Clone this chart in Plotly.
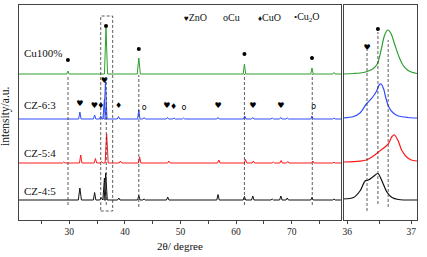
import plotly.graph_objects as go

W, H = 427, 257
# ---------------- data ----------------
series_names = ["Cu100%", "CZ-6:3", "CZ-5:4", "CZ-4:5"]
series_colors = ["#2e9e2e", "#2f4bff", "#ff1a1a", "#111111"]
series_offsets = [146, 101, 57, 20]

# main-panel peaks: (2theta, height)
peaks_cu100 = [(29.75, 3), (36.6, 46), (42.5, 16), (61.5, 10), (73.65, 6), (77.6, 1.5)]
peaks_cz63 = [(31.9, 7), (34.55, 4), (35.65, 3), (36.32, 20), (36.5, 37), (38.85, 2.5), (42.5, 9),
              (43.45, 1.5), (47.65, 1.5), (48.85, 1), (50.55, 1), (56.75, 1.5), (61.55, 3),
              (63.0, 1.5), (66.5, 1), (68.05, 1.5), (69.2, 1), (73.65, 3), (77.6, 1)]
peaks_cz54 = [(29.0, 1), (32.05, 8), (34.7, 4.5), (35.8, 1.5), (36.72, 29), (39.2, 2), (42.65, 6),
              (47.9, 2), (56.9, 3), (61.7, 3.5), (63.1, 2), (66.7, 1), (68.1, 2.5), (69.3, 1.5),
              (73.8, 2), (77.6, 0.8)]
peaks_cz45 = [(31.9, 12), (34.55, 7.5), (35.7, 2.5), (36.32, 22), (36.55, 27), (38.9, 2), (42.5, 4.5),
              (43.45, 1), (47.7, 3), (56.75, 5.5), (61.5, 3.5), (63.0, 4), (66.5, 1), (68.05, 4),
              (69.2, 2), (73.65, 2.5), (77.6, 1)]
main_peaks = [peaks_cu100, peaks_cz63, peaks_cz54, peaks_cz45]

# zoomed panel profiles (2theta, intensity above baseline)
zoom_cu100 = [(35.94, 0), (36.1, 0.5), (36.2, 1), (36.3, 2.3), (36.4, 5), (36.47, 10), (36.53, 24),
              (36.58, 38), (36.63, 44), (36.68, 41), (36.74, 30), (36.81, 17), (36.87, 9),
              (36.94, 4), (37.0, 2), (37.09, 0.5)]
zoom_cz63 = [(35.94, 0), (36.1, 1.5), (36.2, 5), (36.3, 14), (36.4, 21), (36.46, 27), (36.5, 33),
             (36.53, 34), (36.57, 29), (36.6, 21), (36.65, 11), (36.72, 5), (36.8, 2),
             (36.95, 0.5), (37.09, 0)]
zoom_cz54 = [(35.94, 0), (36.1, 0.3), (36.2, 0.8), (36.3, 2), (36.4, 5.5), (36.5, 10.5), (36.6, 15.5),
             (36.65, 19), (36.7, 25.5), (36.74, 27), (36.8, 20.5), (36.85, 12), (36.92, 5.5),
             (37.0, 2), (37.09, 1)]
zoom_cz45 = [(35.94, 1), (36.1, 2.5), (36.2, 9), (36.28, 19), (36.33, 20), (36.4, 23), (36.48, 26.5),
             (36.55, 18), (36.62, 8), (36.7, 2.5), (36.8, 0.5), (37.09, 0)]
zoom_profiles = [zoom_cu100, zoom_cz63, zoom_cz54, zoom_cz45]

# phase markers in the main panel
dots_main = [(29.75, 160), (36.6, 194), (42.5, 171), (61.5, 166), (73.65, 162)]
symbols_main = [
    (31.9, 116, "♥"), (34.5, 114, "♥"), (35.65, 114, "♦"), (36.3, 139, "♥"), (38.85, 114, "♦"),
    (43.45, 112, "o"), (47.55, 114, "♥"), (48.75, 113, "♦"), (50.6, 112, "o"), (56.75, 114, "♥"),
    (63.0, 114, "♥"), (68.05, 114, "♥"), (73.95, 113, "o"),
]
# phase markers in the zoomed panel
symbols_zoom = [(36.31, 172, "♥")]
dots_zoom = [(36.48, 191)]

# dashed reference lines: (2theta, y_low, y_high)
ref_lines_main = [(29.77, 15, 145), (36.65, 15, 145), (42.5, 13, 145), (61.5, 15, 146), (73.7, 15, 146)]
ref_box_main = (35.65, 37.8, 9, 204)
ref_lines_zoom = [(36.31, 9, 170), (36.48, 16, 188), (36.64, 13, 180)]

legend_symbols = ["♥", "o", "♦", "•"]
legend_symbol_sizes = [8, 10, 8, 9]
legend_labels = ["ZnO", "Cu", "CuO", "Cu<sub>2</sub>O"]
legend_x = [195, 231, 269, 307]

# ---------------- figure ----------------
fig = go.Figure()
SERIF = "Liberation Serif"

for name, col, off, pk in zip(series_names, series_colors, series_offsets, main_peaks):
    xs, ys = [20.95], [off]
    for p, h in sorted(pk):
        w = 0.28 if h > 10 else 0.22
        xs += [p - w, p, p + w]
        ys += [off, off + h, off]
    xs.append(78.87)
    ys.append(off)
    fig.add_trace(go.Scatter(x=xs, y=ys, mode="lines", line=dict(color=col, width=1),
                             xaxis="x", yaxis="y", showlegend=False, hoverinfo="skip"))

zoom_offsets = [146, 102, 58, 20]
for col, off, prof in zip(series_colors, zoom_offsets, zoom_profiles):
    fig.add_trace(go.Scatter(x=[p[0] for p in prof], y=[off + p[1] for p in prof], mode="lines",
                             line=dict(color=col, width=1.2, shape="spline", smoothing=0.8),
                             xaxis="x2", yaxis="y2", showlegend=False, hoverinfo="skip"))

def sym_trace(marks, xa, ya):
    return go.Scatter(x=[m[0] for m in marks], y=[m[1] for m in marks], text=[m[2] for m in marks],
                      mode="text", textfont=dict(family="DejaVu Sans", size=8, color="#000"),
                      xaxis=xa, yaxis=ya, showlegend=False, hoverinfo="skip")

def dot_trace(marks, xa, ya):
    return go.Scatter(x=[m[0] for m in marks], y=[m[1] for m in marks], mode="markers",
                      marker=dict(symbol="circle", size=4, color="#000"),
                      xaxis=xa, yaxis=ya, showlegend=False, hoverinfo="skip")

fig.add_trace(sym_trace(symbols_main, "x", "y"))
fig.add_trace(sym_trace(symbols_zoom, "x2", "y2"))
fig.add_trace(dot_trace(dots_main, "x", "y"))
fig.add_trace(dot_trace(dots_zoom, "x2", "y2"))

shapes = []
dash = dict(color="#333333", width=0.8, dash="3px,2px")
for xv, y0, y1 in ref_lines_main:
    shapes.append(dict(type="line", xref="x", yref="y", x0=xv, x1=xv, y0=y0, y1=y1, line=dash))
bx0, bx1, by0, by1 = ref_box_main
shapes.append(dict(type="rect", xref="x", yref="y", x0=bx0, x1=bx1, y0=by0, y1=by1, line=dash))
for xv, y0, y1 in ref_lines_zoom:
    shapes.append(dict(type="line", xref="x2", yref="y2", x0=xv, x1=xv, y0=y0, y1=y1, line=dash))

annotations = []
label_y = [167, 115, 67, 29]
for name, ly in zip(series_names, label_y):
    annotations.append(dict(x=22 / W, y=ly, xref="paper", yref="y",
                            text=name, showarrow=False, xanchor="left", yanchor="middle",
                            font=dict(family=SERIF, size=11, color="#111")))
for s, ss, lab, xp in zip(legend_symbols, legend_symbol_sizes, legend_labels, legend_x):
    txt = "<span style='font-size:%dpx'>%s</span>%s" % (ss, s, lab)
    annotations.append(dict(x=xp / W, y=1 - 18 / H, xref="paper", yref="paper", text=txt,
                            showarrow=False, xanchor="center", yanchor="middle",
                            font=dict(family=SERIF, size=10, color="#111")))
annotations.append(dict(x=6 / W, y=1 - 116 / H, xref="paper", yref="paper", text="intensity/a.u.",
                        textangle=-90, showarrow=False, xanchor="center", yanchor="middle",
                        font=dict(family=SERIF, size=11.5, color="#111")))
annotations.append(dict(x=180 / W, y=1 - 246 / H, xref="paper", yref="paper", text="2θ/ degree",
                        showarrow=False, xanchor="center", yanchor="middle",
                        font=dict(family=SERIF, size=11, color="#111")))

axis_common = dict(showgrid=False, zeroline=False, showline=True, linecolor="#444", linewidth=1,
                   mirror=True, tickcolor="#444",
                   tickfont=dict(family=SERIF, size=9.5, color="#222"))
fig.update_layout(
    width=W, height=H, margin=dict(l=0, r=0, t=0, b=0),
    paper_bgcolor="white", plot_bgcolor="white",
    xaxis=dict(domain=[19 / W, 341 / W], range=[20.95, 78.87], dtick=10, tick0=0,
               ticks="outside", ticklen=3,
               minor=dict(dtick=5, ticks="outside", ticklen=3, tickcolor="#444"), **axis_common),
    yaxis=dict(domain=[1 - 220 / H, 1 - 5 / H], range=[0, 215], showticklabels=False, ticks="",
               **axis_common),
    xaxis2=dict(domain=[343.5 / W, 417 / W], range=[35.943, 37.09], dtick=1, tick0=0,
                ticks="outside", ticklen=3, anchor="y2",
                minor=dict(dtick=0.5, ticks="outside", ticklen=3, tickcolor="#444"), **axis_common),
    yaxis2=dict(domain=[1 - 220 / H, 1 - 5 / H], range=[0, 215], showticklabels=False, ticks="",
                anchor="x2", **axis_common),
    shapes=shapes, annotations=annotations,
)
fig.write_html("out.html", config={"displayModeBar": False},
               post_script="document.body.style.margin='0';document.body.style.padding='0';")
